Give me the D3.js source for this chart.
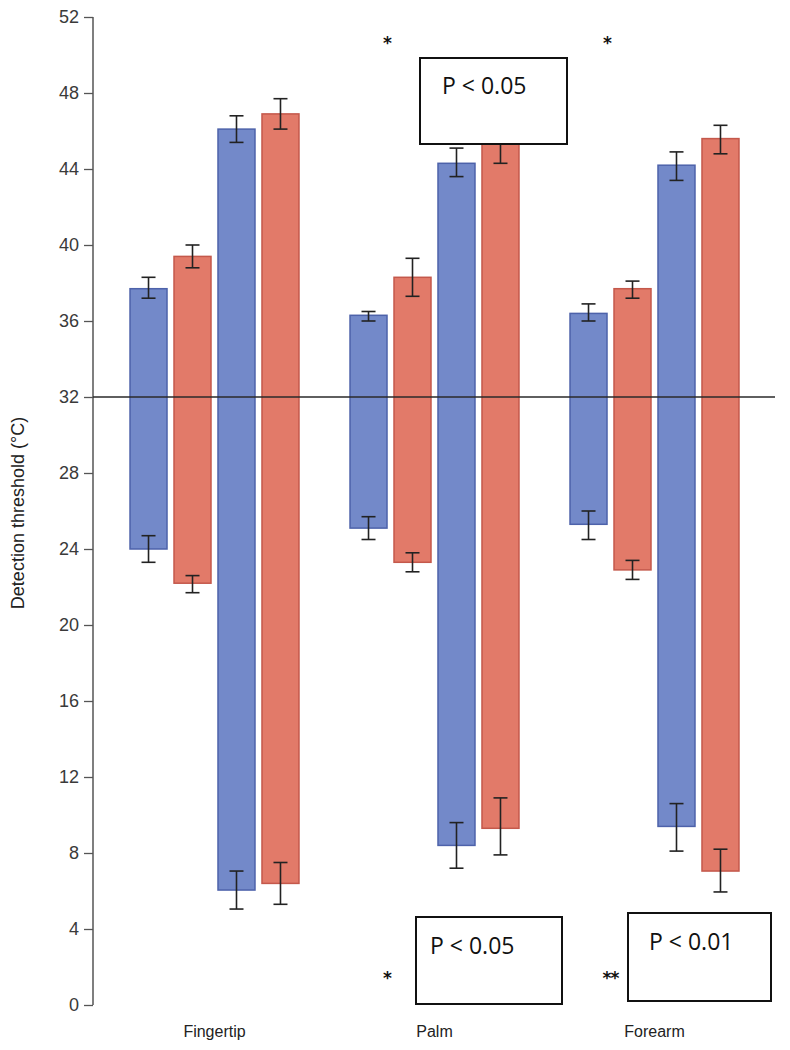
<!DOCTYPE html>
<html>
<head>
<meta charset="utf-8">
<script src="https://cdn.jsdelivr.net/npm/d3@7"></script>
<style>
  html, body { margin: 0; padding: 0; background: #fff; }
  svg { display: block; }
</style>
</head>
<body>
<svg id="chart" width="790" height="1050"></svg>
<script>
// ---- data ----
const categories = ["Fingertip", "Palm", "Forearm"];
const seriesNames = ["Cold, group 1", "Cold, group 2", "Heat, group 1", "Heat, group 2"]; // four bars per site
const yTicks = [0, 4, 8, 12, 16, 20, 24, 28, 32, 36, 40, 44, 48, 52];
const baseline = 32;

// lower end of each floating bar (mean) and its error bar
const lowMean  = [[24.0, 22.2, 6.05, 6.4], [25.1, 23.3, 8.4, 9.3], [25.3, 22.9, 9.4, 7.05]];
const lowErrUp = [[24.7, 22.6, 7.05, 7.5], [25.7, 23.8, 9.6, 10.9], [26.0, 23.4, 10.6, 8.2]];
const lowErrDn = [[23.3, 21.7, 5.05, 5.3], [24.5, 22.8, 7.2, 7.9], [24.5, 22.4, 8.1, 5.95]];
// upper end of each floating bar (mean) and its error bar
const highMean  = [[37.7, 39.4, 46.1, 46.9], [36.3, 38.3, 44.3, 45.4], [36.4, 37.7, 44.2, 45.6]];
const highErrUp = [[38.3, 40.0, 46.8, 47.7], [36.5, 39.3, 45.1, 46.2], [36.9, 38.1, 44.9, 46.3]];
const highErrDn = [[37.2, 38.8, 45.4, 46.1], [36.0, 37.3, 43.6, 44.3], [36.0, 37.2, 43.4, 44.8]];

// significance annotations
const annotations = [
  { star: "*",  site: "Palm",    starY: 50.8, label: "P < 0.05", pos: "top" },
  { star: "*",  site: "Forearm", starY: 50.8, label: null,       pos: "top" },
  { star: "*",  site: "Palm",    starY: 1.6,  label: "P < 0.05", pos: "bottom" },
  { star: "**", site: "Forearm", starY: 1.6,  label: "P < 0.01", pos: "bottom" }
];

// ---- styles ----
const fills   = ["#7389c9", "#e27a69", "#7389c9", "#e27a69"];
const strokes = ["#4d62aa", "#c4584b", "#4d62aa", "#c4584b"];

const svg = d3.select("#chart");

const y = d3.scaleLinear().domain([0, 52]).range([1005, 17]);
const x0 = d3.scaleBand().domain(categories).range([104.5, 764.5]).paddingInner(0.232).paddingOuter(0.116);
const x1 = d3.scaleBand().domain(d3.range(seriesNames.length)).range([0, x0.bandwidth()]).paddingInner(0.159).paddingOuter(0);

// y axis
const axisX = 93;
const yAxis = d3.axisLeft(y).tickValues(yTicks).tickSize(9).tickPadding(5).tickFormat(d3.format("d"));
const gy = svg.append("g").attr("transform", `translate(${axisX},0)`).call(yAxis);
gy.select(".domain").attr("stroke", "#555").attr("stroke-width", 1.5).attr("d", `M0,${y(52)}V${y(0)}`);
gy.selectAll(".tick line").attr("stroke", "#555").attr("stroke-width", 1.3);
gy.selectAll(".tick text").attr("fill", "#3a3a3a").style("font-family", "Liberation Sans, Arial, sans-serif").style("font-size", "18px");

// y label
svg.append("text")
  .attr("transform", `translate(24,513) rotate(-90)`)
  .attr("text-anchor", "middle")
  .attr("fill", "#222")
  .style("font-family", "Liberation Sans, Arial, sans-serif")
  .style("font-size", "18px")
  .text("Detection threshold (°C)");

// bars
const rows = [];
categories.forEach((c, ci) => {
  seriesNames.forEach((s, si) => {
    rows.push({ c, si,
      lo: lowMean[ci][si], loU: lowErrUp[ci][si], loD: lowErrDn[ci][si],
      hi: highMean[ci][si], hiU: highErrUp[ci][si], hiD: highErrDn[ci][si] });
  });
});

const g = svg.append("g");
g.selectAll("rect.bar").data(rows).join("rect")
  .attr("class", "bar")
  .attr("x", d => x0(d.c) + x1(d.si))
  .attr("width", x1.bandwidth())
  .attr("y", d => y(d.hi))
  .attr("height", d => y(d.lo) - y(d.hi))
  .attr("fill", d => fills[d.si])
  .attr("stroke", d => strokes[d.si])
  .attr("stroke-width", 1.5);

// error bars
const capW = 7;
const err = g.selectAll("g.err").data(rows).join("g").attr("class", "err")
  .attr("transform", d => `translate(${x0(d.c) + x1(d.si) + x1.bandwidth()/2},0)`);
const errSpecs = [["hiU", "hiD"], ["loU", "loD"]];
errSpecs.forEach(([u, dn]) => {
  err.append("line").attr("x1", 0).attr("x2", 0)
    .attr("y1", d => y(d[u])).attr("y2", d => y(d[dn]));
  err.append("line").attr("x1", -capW).attr("x2", capW)
    .attr("y1", d => y(d[u])).attr("y2", d => y(d[u]));
  err.append("line").attr("x1", -capW).attr("x2", capW)
    .attr("y1", d => y(d[dn])).attr("y2", d => y(d[dn]));
});
err.selectAll("line").attr("stroke", "#222").attr("stroke-width", 1.6);

// baseline at 32
svg.append("line")
  .attr("x1", axisX).attr("x2", 775)
  .attr("y1", y(baseline)).attr("y2", y(baseline))
  .attr("stroke", "#2a2a2a").attr("stroke-width", 1.5);

// category labels
svg.selectAll("text.cat").data(categories).join("text")
  .attr("class", "cat")
  .attr("x", d => x0(d) + x0.bandwidth()/2)
  .attr("y", 1037)
  .attr("text-anchor", "middle")
  .attr("fill", "#222")
  .style("font-family", "Liberation Sans, Arial, sans-serif")
  .style("font-size", "16px")
  .text(d => d);

// annotation boxes and stars
const boxGeom = {
  "top-Palm":       { x: 420, y: 58,  w: 147, h: 86, tx: 442, ty: 94 },
  "bottom-Palm":    { x: 416, y: 917, w: 146, h: 87, tx: 430, ty: 954 },
  "bottom-Forearm": { x: 628, y: 913, w: 143, h: 88, tx: 649, ty: 950 }
};
annotations.forEach(a => {
  const key = `${a.pos}-${a.site}`;
  const cx = x0(a.site) + x0.bandwidth()/2;
  svg.append("text")
    .attr("x", cx + (a.star === "**" ? -44 : -47))
    .attr("y", y(a.starY) + 9)
    .attr("text-anchor", "middle")
    .attr("fill", "#111")
    .style("font-family", "DejaVu Sans, sans-serif")
    .style("font-weight", "bold")
    .style("font-size", "17px")
    .style("letter-spacing", a.star === "**" ? "-1px" : "0px")
    .text(a.star);
  if (a.label && boxGeom[key]) {
    const b = boxGeom[key];
    svg.append("rect").attr("x", b.x).attr("y", b.y).attr("width", b.w).attr("height", b.h)
      .attr("fill", "#fff").attr("stroke", "#111").attr("stroke-width", 2);
    svg.append("text").attr("x", b.tx).attr("y", b.ty)
      .attr("fill", "#111")
      .style("font-family", "Open Sans, sans-serif")
      .style("font-size", "23px")
      .text(a.label);
  }
});
</script>
</body>
</html>
